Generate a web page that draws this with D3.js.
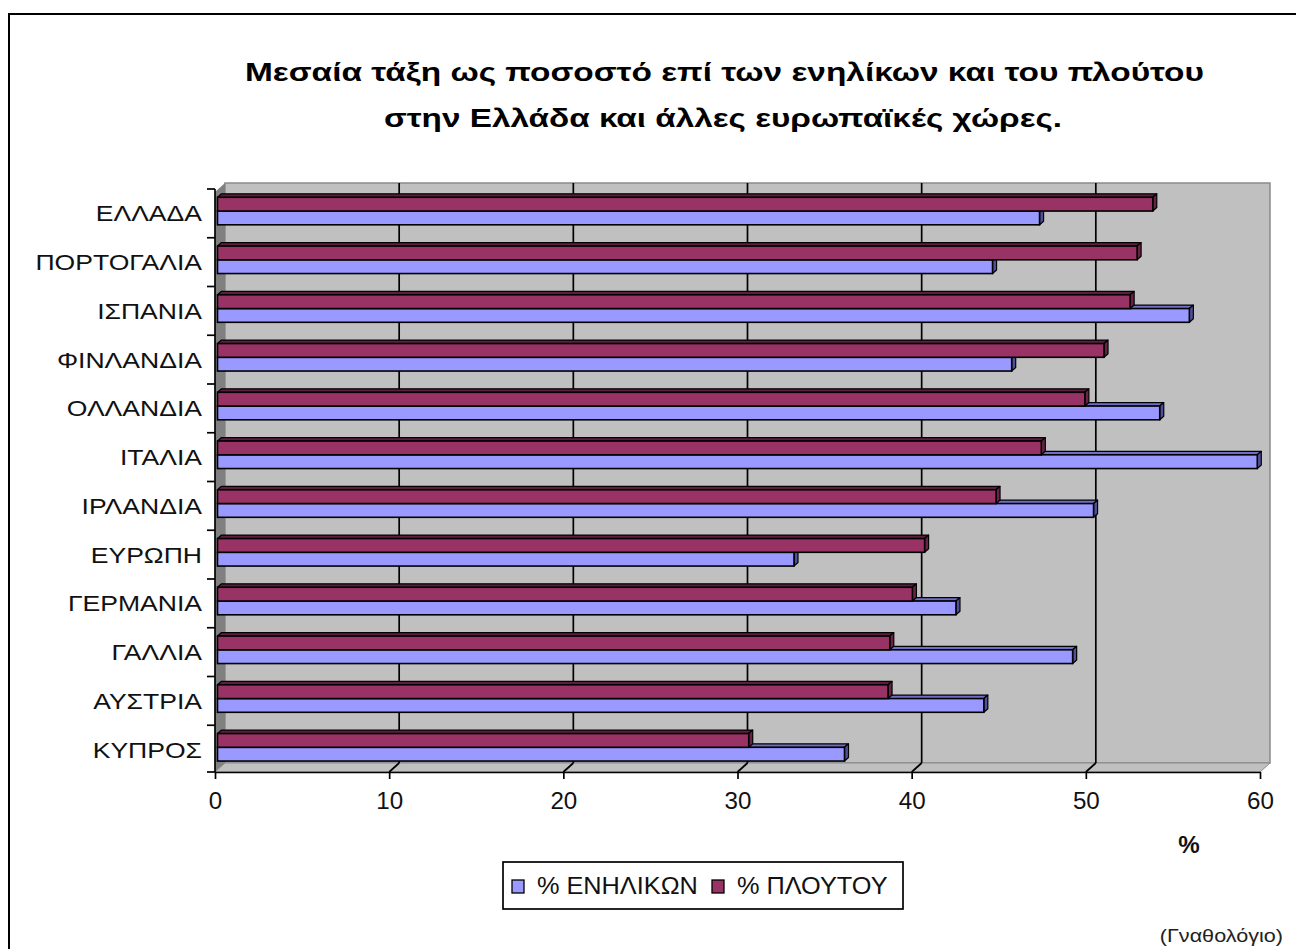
<!DOCTYPE html>
<html>
<head>
<meta charset="utf-8">
<script src="https://cdn.jsdelivr.net/npm/d3@7"></script>
<style>
  html, body { margin: 0; padding: 0; background: #fff; }
  svg { display: block; font-family: Arial, "Liberation Sans", sans-serif; }
</style>
</head>
<body>
<svg id="chart" width="1296" height="949"></svg>
<script>
const categories = ["ΕΛΛΑΔΑ", "ΠΟΡΤΟΓΑΛΙΑ", "ΙΣΠΑΝΙΑ", "ΦΙΝΛΑΝΔΙΑ", "ΟΛΛΑΝΔΙΑ", "ΙΤΑΛΙΑ",
                    "ΙΡΛΑΝΔΙΑ", "ΕΥΡΩΠΗ", "ΓΕΡΜΑΝΙΑ", "ΓΑΛΛΙΑ", "ΑΥΣΤΡΙΑ", "ΚΥΠΡΟΣ"];
const adults = [47.2, 44.5, 55.8, 45.6, 54.1, 59.7, 50.3, 33.1, 42.4, 49.1, 44.0, 36.0];
const wealth = [53.7, 52.8, 52.4, 50.9, 49.8, 47.3, 44.7, 40.6, 39.9, 38.6, 38.5, 30.5];
const seriesNames = ["% ΕΝΗΛΙΚΩΝ", "% ΠΛΟΥΤΟΥ"];
const xTicks = [0, 10, 20, 30, 40, 50, 60];
const titleLines = ["Μεσαία τάξη ως ποσοστό επί των ενηλίκων και του πλούτου",
                    "στην Ελλάδα και άλλες ευρωπαϊκές χώρες."];
const axisTitle = "%";
const sourceNote = "(Γναθολόγιο)";

const svg = d3.select("#chart");

// geometry
const frontLeft = 215, frontRight = 1260, frontTop = 189, frontBottom = 772;
const DX = 10, DY = 9;           // wall depth offset
const BDX = 4, BDY = 3.5;        // bar depth
const BAR_SHIFT = 2.5;

const x = d3.scaleLinear().domain([0, 60]).range([frontLeft, frontRight]);
const y = d3.scaleBand().domain(categories).range([frontTop, frontBottom + 2]);
const sub = d3.scaleBand().domain(["w", "a"]).range([8.3, 35.8]);

const colors = {
  a: {front: "#9999FF", top: "#6F6FC8", right: "#50509A"},
  w: {front: "#993366", top: "#5E1E3E", right: "#6A2247"}
};

// outer frame
svg.append("rect").attr("x", 9).attr("y", 14).attr("width", 1400).attr("height", 1000)
  .attr("fill", "#fff").attr("stroke", "#000").attr("stroke-width", 2);

// back wall
const wallTop = 183, wallBottom = frontBottom - DY;
svg.append("rect")
  .attr("x", x(0) + DX).attr("y", wallTop)
  .attr("width", x(60) - x(0)).attr("height", wallBottom - wallTop)
  .attr("fill", "#C0C0C0").attr("stroke", "#8A8A8A").attr("stroke-width", 1.5);

// side wall
svg.append("polygon")
  .attr("points", [[x(0), wallTop + DY], [x(0) + DX, wallTop], [x(0) + DX, wallBottom], [x(0), frontBottom]].join(" "))
  .attr("fill", "#808080");

// floor
svg.append("polygon")
  .attr("points", [[x(0), frontBottom], [x(60), frontBottom], [x(60) + DX, wallBottom], [x(0) + DX, wallBottom]].join(" "))
  .attr("fill", "#C0C0C0").attr("stroke", "#8A8A8A").attr("stroke-width", 1);

// gridlines on wall and floor
const grid = svg.append("g").attr("stroke", "#000").attr("stroke-width", 1.7);
xTicks.filter(t => t > 0 && t < 60).forEach(t => {
  grid.append("line").attr("x1", x(t) + DX).attr("x2", x(t) + DX)
    .attr("y1", wallTop).attr("y2", wallBottom);
  grid.append("line").attr("x1", x(t) + DX).attr("x2", x(t))
    .attr("y1", wallBottom).attr("y2", frontBottom);
});

// bars
function bar3d(g, x0, x1, yy, h, c) {
  g.append("polygon")
    .attr("points", [[x0, yy], [x0 + BDX, yy - BDY], [x1 + BDX, yy - BDY], [x1, yy]].join(" "))
    .attr("fill", c.top).attr("stroke", "#000").attr("stroke-width", 1.2).attr("stroke-linejoin", "round");
  g.append("polygon")
    .attr("points", [[x1, yy], [x1 + BDX, yy - BDY], [x1 + BDX, yy + h - BDY], [x1, yy + h]].join(" "))
    .attr("fill", c.right).attr("stroke", "#000").attr("stroke-width", 1.2).attr("stroke-linejoin", "round");
  g.append("rect").attr("x", x0).attr("y", yy).attr("width", x1 - x0).attr("height", h)
    .attr("fill", c.front).attr("stroke", "#000").attr("stroke-width", 1.6);
}
const barsG = svg.append("g");
const h = sub.bandwidth();
categories.forEach((cat, i) => {
  const g = barsG.append("g");
  bar3d(g, x(0) + BAR_SHIFT, x(adults[i]) + BAR_SHIFT, y(cat) + sub("a"), h, colors.a);
  bar3d(g, x(0) + BAR_SHIFT, x(wealth[i]) + BAR_SHIFT, y(cat) + sub("w"), h, colors.w);
});

// bottom axis
const xAxis = svg.append("g").attr("transform", `translate(0,${frontBottom})`)
  .call(d3.axisBottom(x).tickValues(xTicks).tickSize(7).tickSizeOuter(0).tickPadding(14));
xAxis.select(".domain").attr("stroke", "#000").attr("stroke-width", 1.7);
xAxis.selectAll(".tick line").attr("stroke", "#000").attr("stroke-width", 1.7);
xAxis.selectAll(".tick text").attr("font-size", 23).attr("fill", "#111")
  .attr("font-family", "Arial, 'Liberation Sans', sans-serif")
  .attr("transform", "scale(1.05,1)");

// left axis
const leftG = svg.append("g").attr("stroke", "#000").attr("stroke-width", 1.7);
leftG.append("line").attr("x1", x(0)).attr("x2", x(0)).attr("y1", frontTop).attr("y2", frontBottom);
const bounds = categories.map(c => y(c)).concat([frontBottom]);
bounds.forEach(b => {
  leftG.append("line").attr("x1", x(0) - 8).attr("x2", x(0)).attr("y1", b).attr("y2", b);
});

// category labels
svg.append("g").selectAll("text").data(categories).join("text")
  .attr("transform", d => `translate(202,${y(d) + y.bandwidth() / 2 + 8}) scale(1.18,1)`)
  .attr("text-anchor", "end").attr("font-size", 22.5).attr("fill", "#111")
  .text(d => d);

// title
svg.append("text").attr("x", 724.5).attr("y", 81).attr("text-anchor", "middle")
  .attr("font-size", 26).attr("font-weight", "bold").attr("fill", "#000")
  .attr("textLength", 959).attr("lengthAdjust", "spacingAndGlyphs").text(titleLines[0]);
svg.append("text").attr("x", 723).attr("y", 127).attr("text-anchor", "middle")
  .attr("font-size", 26).attr("font-weight", "bold").attr("fill", "#000")
  .attr("textLength", 678).attr("lengthAdjust", "spacingAndGlyphs").text(titleLines[1]);

// axis title
svg.append("text").attr("transform", "translate(1189,853) scale(1.05,1)").attr("text-anchor", "middle")
  .attr("font-size", 23).attr("font-weight", "bold").attr("fill", "#111").text(axisTitle);

// legend
const lg = svg.append("g");
lg.append("rect").attr("x", 503).attr("y", 862).attr("width", 400).attr("height", 47)
  .attr("fill", "#fff").attr("stroke", "#000").attr("stroke-width", 1.7);
const legendItems = [
  {name: seriesNames[0], c: colors.a, sx: 512, tx: 537},
  {name: seriesNames[1], c: colors.w, sx: 712, tx: 737}
];
legendItems.forEach(it => {
  lg.append("rect").attr("x", it.sx).attr("y", 880).attr("width", 12).attr("height", 13)
    .attr("fill", it.c.front).attr("stroke", "#000").attr("stroke-width", 1.3);
  lg.append("text").attr("transform", `translate(${it.tx},894) scale(1.1,1)`)
    .attr("font-size", 23).attr("fill", "#111").text(it.name);
});

// source
svg.append("text").attr("transform", "translate(1283,942) scale(1.2,1)").attr("text-anchor", "end")
  .attr("font-size", 18).attr("fill", "#222").text(sourceNote);
</script>
</body>
</html>
